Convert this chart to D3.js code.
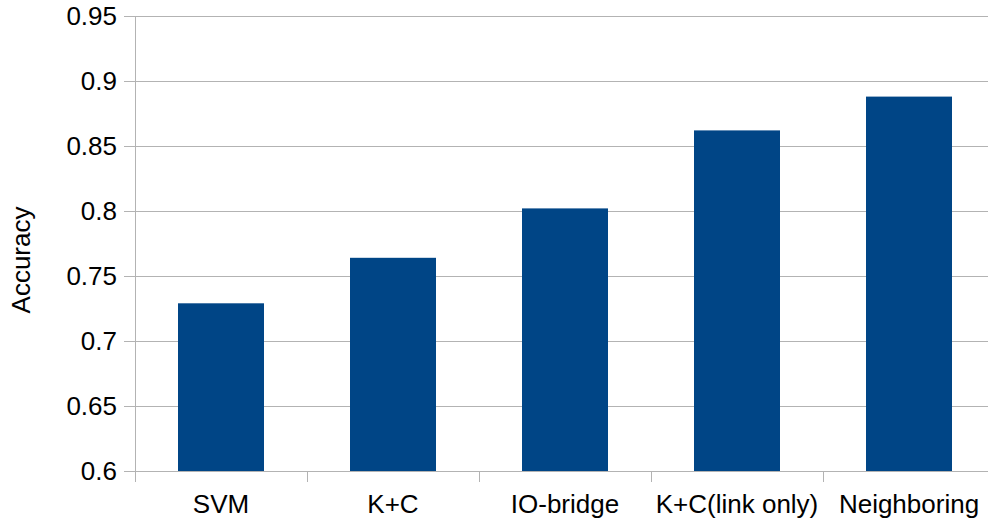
<!DOCTYPE html>
<html><head><meta charset="utf-8">
<script src="https://cdn.jsdelivr.net/npm/d3@7"></script>
<style>html,body{margin:0;padding:0;background:#fff;}svg{display:block;}</style>
</head><body>
<svg id="chart" width="988" height="522"></svg>
<script>
const categories = ["SVM", "K+C", "IO-bridge", "K+C(link only)", "Neighboring"];
const accuracy = [0.729, 0.764, 0.802, 0.862, 0.888];
const yTicks = [0.6, 0.65, 0.7, 0.75, 0.8, 0.85, 0.9, 0.95];
const yTickLabels = ["0.6", "0.65", "0.7", "0.75", "0.8", "0.85", "0.9", "0.95"];

const svg = d3.select("#chart");
const pLeft = 135, pRight = 995, pTop = 16, pBottom = 471;
const font = "'Liberation Sans', Arial, sans-serif";
const fs = 26;

const x = d3.scaleBand().domain(categories).range([pLeft, pRight]).paddingInner(0.5).paddingOuter(0.25);
const xb = d3.scaleBand().domain(categories).range([pLeft, pRight]);
const y = d3.scaleLinear().domain([0.6, 0.95]).range([pBottom, pTop]);

// gridlines
svg.append("g").selectAll("line").data(yTicks).join("line")
  .attr("x1", pLeft - 11).attr("x2", pRight)
  .attr("y1", d => Math.round(y(d)) + 0.5).attr("y2", d => Math.round(y(d)) + 0.5)
  .attr("stroke", "#b3b3b3").attr("stroke-width", 1);

// y axis line
svg.append("line").attr("x1", pLeft + 0.5).attr("x2", pLeft + 0.5)
  .attr("y1", pTop).attr("y2", pBottom + 11).attr("stroke", "#b3b3b3");

// x category separators
const seps = categories.map(c => xb(c)).concat([pRight]);
svg.append("g").selectAll("line").data(seps.slice(1)).join("line")
  .attr("x1", d => Math.round(d) + 0.5).attr("x2", d => Math.round(d) + 0.5)
  .attr("y1", pBottom).attr("y2", pBottom + 11).attr("stroke", "#b3b3b3");

// bars
svg.append("g").selectAll("rect").data(categories).join("rect")
  .attr("x", d => x(d)).attr("width", x.bandwidth())
  .attr("y", (d, i) => y(accuracy[i])).attr("height", (d, i) => pBottom - y(accuracy[i]))
  .attr("fill", "#004586");

// y tick labels
svg.append("g").selectAll("text").data(yTicks).join("text")
  .attr("x", 117).attr("y", d => y(d)).attr("dy", "0.35em")
  .attr("text-anchor", "end").attr("font-family", font).attr("font-size", fs)
  .text((d, i) => yTickLabels[i]);

// x labels
svg.append("g").selectAll("text").data(categories).join("text")
  .attr("x", d => xb(d) + xb.bandwidth() / 2).attr("y", 513)
  .attr("text-anchor", "middle").attr("font-family", font).attr("font-size", fs)
  .text(d => d);

// y axis title
svg.append("text").attr("transform", "translate(30,260) rotate(-90)")
  .attr("text-anchor", "middle").attr("font-family", font).attr("font-size", fs)
  .text("Accuracy");
</script>
</body></html>
